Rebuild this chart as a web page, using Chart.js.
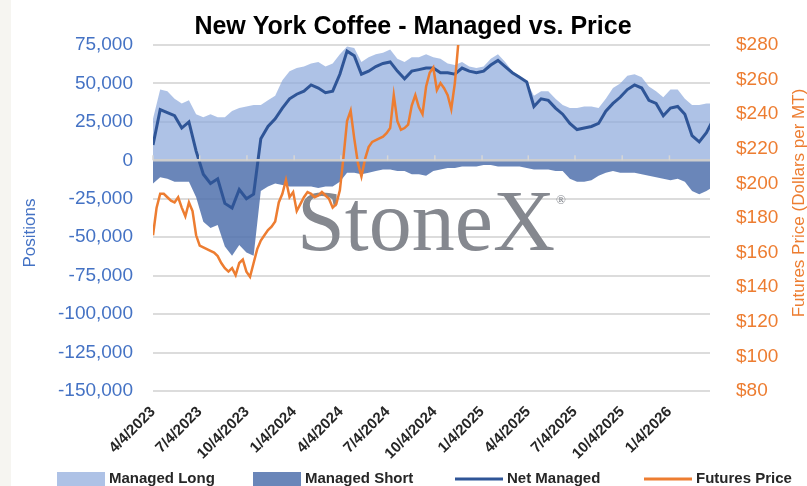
<!DOCTYPE html>
<html>
<head>
<meta charset="utf-8">
<title>New York Coffee - Managed vs. Price</title>
<script src="https://cdn.jsdelivr.net/npm/chart.js@4.4.0/dist/chart.umd.min.js"></script>
<style>
  html, body { margin: 0; padding: 0; background: #fff; }
  #wrap { width: 807px; height: 486px; }
</style>
</head>
<body>
<div id="wrap"><canvas id="chart" width="807" height="486"></canvas></div>
<script>
// weekly COT reports starting 4/4/2023; positions read every 2 weeks, price every week
const startDate = '4/4/2023';
const tickLabels = ['4/4/2023', '7/4/2023', '10/4/2023', '1/4/2024', '4/4/2024', '7/4/2024',
    '10/4/2024', '1/4/2025', '4/4/2025', '7/4/2025', '10/4/2025', '1/4/2026'];

const managedLong = [27000, 46000, 45000, 40000, 37000, 39000, 30000, 28000, 30000, 28000,
    28000, 32000, 34000, 35000, 36000, 36000, 39000, 42000, 52000, 58000,
    60000, 61000, 63000, 64000, 61000, 63000, 69000, 74000, 73000, 64000,
    67000, 69000, 70000, 72000, 66000, 64000, 67000, 67000, 69000, 67000,
    66000, 63000, 62000, 64000, 61000, 60000, 61000, 66000, 69000, 64000,
    58000, 55000, 51000, 42000, 45000, 45000, 40000, 36000, 34000, 34000,
    35000, 35000, 34000, 40000, 47000, 50000, 55000, 56000, 54000, 48000,
    45000, 41000, 46000, 46000, 40000, 36000, 36000, 37000, 37000];

const managedShort = [-15000, -11000, -12000, -14000, -14000, -14000, -24000, -40000, -44000, -42000,
    -56000, -62000, -55000, -60000, -62000, -20000, -17000, -15000, -16000, -17000,
    -17000, -17000, -17000, -18000, -17000, -17000, -14000, -8000, -8000, -9000,
    -8000, -7000, -6000, -6000, -7000, -7000, -9000, -9000, -10000, -7000,
    -6000, -5000, -5000, -4000, -4000, -4000, -3000, -3000, -4000, -4000,
    -4000, -4000, -5000, -6000, -6000, -6000, -7000, -7000, -12000, -14000,
    -14000, -13000, -10000, -8000, -7000, -8000, -8000, -8000, -9000, -10000,
    -11000, -12000, -13000, -12000, -14000, -20000, -22000, -20000, -17000];

const netManaged = [10000, 33000, 31000, 29000, 21000, 25000, 6000, -9000, -15000, -12000,
    -28000, -31000, -19000, -25000, -22000, 14000, 22000, 27000, 34000, 40000,
    43000, 45000, 49000, 47000, 44000, 45000, 56000, 71000, 68000, 56000,
    58000, 61000, 63000, 64000, 58000, 53000, 58000, 59000, 60000, 60000,
    57000, 57000, 56000, 60000, 58000, 57000, 58000, 62000, 65000, 61000,
    57000, 54000, 51000, 35000, 40000, 39000, 34000, 30000, 24000, 20000,
    21000, 22000, 24000, 32000, 37000, 41000, 46000, 49000, 47000, 39000,
    37000, 29000, 34000, 35000, 30000, 16000, 12000, 18000, 27000];

const futuresPrice = [170, 186, 194, 194, 192, 190, 189, 192, 186, 181,
    189, 184, 170, 164, 163, 162, 161, 160, 158, 154,
    151, 149, 151, 147, 154, 156, 149, 146, 154, 162,
    167, 170, 173, 175, 178, 189, 194, 202, 192, 195,
    184, 188, 192, 195, 194, 192, 193, 195, 193, 191,
    186, 188, 196, 215, 236, 242, 226, 212, 204, 214,
    221, 224, 225, 226, 227, 229, 232, 251, 236, 231,
    232, 234, 245, 251, 244, 240, 256, 264, 267, 254,
    258, 255, 251, 243, 258, 282, 300];

const posTicks = { min: -150000, max: 75000, step: 25000 };
const priceTicks = { min: 80, max: 280, step: 20 };

const dayMs = 86400000;
function weeksSince(label) {
    const [m, d, y] = label.split('/').map(Number);
    const [m0, d0, y0] = startDate.split('/').map(Number);
    return (Date.UTC(y, m - 1, d) - Date.UTC(y0, m0 - 1, d0)) / dayMs / 7;
}
const tickWeeks = tickLabels.map(weeksSince);

const posPoints = arr => arr.map((v, i) => ({ x: i * 2, y: v }));
const pricePoints = futuresPrice.map((v, i) => ({ x: i, y: v }));

const BLUE_TXT = '#4472c4';
const ORANGE = '#ed7d31';
const FONT = '"Liberation Sans", Arial, sans-serif';

const legendItems = [
    { label: 'Managed Long', kind: 'box', color: 'rgba(143,170,220,0.72)', x: 57 },
    { label: 'Managed Short', kind: 'box', color: 'rgba(80,113,173,0.85)', x: 253 },
    { label: 'Net Managed', kind: 'line', color: '#2f5597', x: 455 },
    { label: 'Futures Price', kind: 'line', color: ORANGE, x: 644 }
];

const decorations = {
    id: 'decorations',
    beforeDraw(chart) {
        const ctx = chart.ctx;
        ctx.save();
        ctx.fillStyle = '#fff';
        ctx.fillRect(0, 0, chart.width, chart.height);
        ctx.fillStyle = '#f6f5f1';
        ctx.fillRect(0, 0, 11, chart.height);
        ctx.restore();
    },
    beforeDatasetsDraw(chart) {
        // StoneX watermark
        const ctx = chart.ctx;
        ctx.save();
        ctx.fillStyle = '#85888f';
        ctx.font = '86px "Liberation Serif", "Times New Roman", serif';
        ctx.textBaseline = 'alphabetic';
        ctx.fillText('StoneX', 297, 250);
        const w = ctx.measureText('StoneX').width;
        ctx.font = '13px "Liberation Serif", serif';
        ctx.fillText('\u00ae', 297 + w + 1, 204);
        ctx.restore();
    },
    afterDatasetsDraw(chart) {
        // horizontal axis line crossing at zero, with its tick marks
        const ctx = chart.ctx;
        const { left, right } = chart.chartArea;
        const y0 = chart.scales.y.getPixelForValue(0);
        ctx.save();
        ctx.strokeStyle = '#cdcdcd';
        ctx.lineWidth = 2.5;
        ctx.beginPath();
        ctx.moveTo(left, y0);
        ctx.lineTo(right, y0);
        ctx.stroke();
        ctx.lineWidth = 1.5;
        ctx.strokeStyle = '#d6d6d6';
        tickWeeks.forEach(w => {
            const x = chart.scales.x.getPixelForValue(w);
            ctx.beginPath();
            ctx.moveTo(x, y0 - 5);
            ctx.lineTo(x, y0);
            ctx.stroke();
        });
        ctx.restore();
    },
    afterDraw(chart) {
        const ctx = chart.ctx;
        ctx.save();
        // title
        ctx.fillStyle = '#000';
        ctx.font = 'bold 25px ' + FONT;
        ctx.textAlign = 'center';
        ctx.textBaseline = 'middle';
        ctx.fillText('New York Coffee - Managed vs. Price', 413, 27);

        // axis titles, both read bottom to top
        ctx.font = '17px ' + FONT;
        ctx.fillStyle = BLUE_TXT;
        ctx.save();
        ctx.translate(30, 233);
        ctx.rotate(-Math.PI / 2);
        ctx.fillText('Positions', 0, 0);
        ctx.restore();
        ctx.fillStyle = ORANGE;
        ctx.save();
        ctx.translate(799, 203);
        ctx.rotate(-Math.PI / 2);
        ctx.fillText('Futures Price (Dollars per MT)', 0, 0);
        ctx.restore();

        // legend
        const ly = 479;
        ctx.textAlign = 'left';
        ctx.font = 'bold 15px ' + FONT;
        legendItems.forEach(it => {
            if (it.kind === 'box') {
                ctx.fillStyle = it.color;
                ctx.fillRect(it.x, ly - 7, 48, 15);
            } else {
                ctx.strokeStyle = it.color;
                ctx.lineWidth = 3;
                ctx.beginPath();
                ctx.moveTo(it.x, ly);
                ctx.lineTo(it.x + 48, ly);
                ctx.stroke();
            }
            ctx.fillStyle = '#262626';
            ctx.fillText(it.label, it.x + 52, ly);
        });
        ctx.restore();
    }
};

Chart.defaults.font.family = FONT;

new Chart(document.getElementById('chart'), {
    type: 'line',
    data: {
        datasets: [
            {
                label: 'Futures Price',
                data: pricePoints,
                yAxisID: 'y2',
                borderColor: ORANGE,
                borderWidth: 2.5,
                pointRadius: 0,
                fill: false,
                order: 0
            },
            {
                label: 'Net Managed',
                data: posPoints(netManaged),
                yAxisID: 'y',
                borderColor: '#2f5597',
                borderWidth: 3,
                pointRadius: 0,
                fill: false,
                order: 1
            },
            {
                label: 'Managed Short',
                data: posPoints(managedShort),
                yAxisID: 'y',
                borderWidth: 0,
                borderColor: 'rgba(0,0,0,0)',
                backgroundColor: legendItems[1].color,
                pointRadius: 0,
                fill: 'origin',
                order: 2
            },
            {
                label: 'Managed Long',
                data: posPoints(managedLong),
                yAxisID: 'y',
                borderWidth: 0,
                borderColor: 'rgba(0,0,0,0)',
                backgroundColor: legendItems[0].color,
                pointRadius: 0,
                fill: 'origin',
                order: 3
            }
        ]
    },
    options: {
        responsive: false,
        animation: false,
        layout: { padding: { top: 45, left: 0, right: 0, bottom: 0 } },
        plugins: {
            legend: { display: false },
            tooltip: { enabled: false }
        },
        scales: {
            x: {
                type: 'linear',
                min: 0,
                max: 155,
                grid: { display: false },
                border: { display: false },
                afterBuildTicks: s => { s.ticks = tickWeeks.map(v => ({ value: v })); },
                afterFit: s => { s.height = 95; },
                ticks: {
                    autoSkip: false,
                    minRotation: 45,
                    maxRotation: 45,
                    padding: 4,
                    color: '#262626',
                    font: { size: 15, weight: 'bold' },
                    callback: (v, i) => tickLabels[i]
                }
            },
            y: {
                position: 'left',
                min: posTicks.min,
                max: posTicks.max,
                afterFit: s => { s.width = 153; },
                grid: { color: '#dcdcdc', lineWidth: 2, drawTicks: false },
                border: { display: false },
                ticks: {
                    stepSize: posTicks.step,
                    padding: 20,
                    color: BLUE_TXT,
                    font: { size: 19 },
                    callback: v => v.toLocaleString('en-US')
                }
            },
            y2: {
                position: 'right',
                min: priceTicks.min,
                max: priceTicks.max,
                afterFit: s => { s.width = 97; },
                grid: { display: false },
                border: { display: false },
                ticks: {
                    stepSize: priceTicks.step,
                    padding: 18,
                    color: ORANGE,
                    font: { size: 19 },
                    callback: v => '$' + v
                }
            }
        }
    },
    plugins: [decorations]
});
</script>
</body>
</html>
